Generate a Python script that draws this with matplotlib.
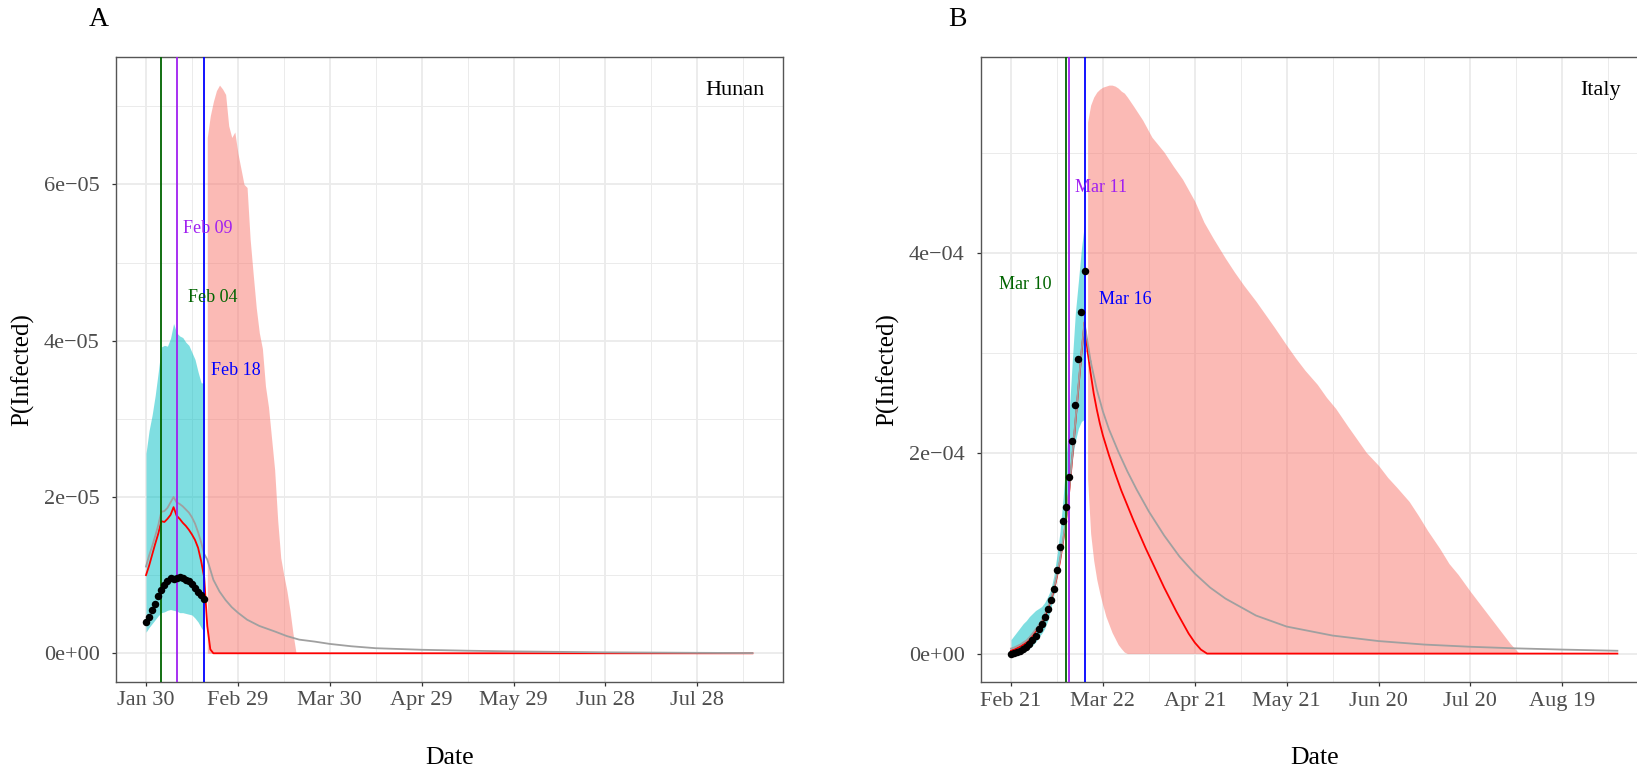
import numpy as np
import pandas as pd
import matplotlib
matplotlib.use('Agg')
import matplotlib.pyplot as plt
import matplotlib.dates as mdates
from matplotlib.ticker import FixedLocator, FixedFormatter

plt.rcParams['font.family'] = ['Liberation Serif', 'DejaVu Serif']

# ---------------- Panel A : Hunan (values x 1e-5, days after 2020-01-30) -------------
hunan_start = '2020-01-30'
hunan_end_day = 198
hunan_obs_days = list(range(20))
hunan_obs = [0.40, 0.47, 0.55, 0.635, 0.73, 0.81, 0.88, 0.93, 0.96, 0.95,
             0.96, 0.98, 0.96, 0.94, 0.92, 0.89, 0.84, 0.79, 0.74, 0.69]
hunan_band_days = list(range(20))
hunan_band_high = [2.56, 2.85, 3.05, 3.30, 3.60, 3.92, 3.94, 3.93, 4.03, 4.22,
                   4.10, 4.06, 4.04, 3.98, 3.94, 3.85, 3.76, 3.60, 3.46, 3.46]
hunan_band_low = [0.27, 0.33, 0.38, 0.43, 0.48, 0.52, 0.53, 0.55, 0.56, 0.55,
                  0.54, 0.52, 0.52, 0.51, 0.50, 0.49, 0.45, 0.40, 0.33, 0.27]
hunan_fore_days = list(range(20, 50))
hunan_fore_high = [6.60, 6.88, 7.06, 7.20, 7.27, 7.22, 7.15, 6.75, 6.60, 6.67,
                   6.40, 6.20, 6.00, 5.96, 5.30, 4.85, 4.42, 4.10, 3.90, 3.42,
                   3.15, 2.75, 2.35, 1.70, 1.22, 1.00, 0.80, 0.55, 0.25, 0.00]
hunan_red_days = list(range(23)) + [198]
hunan_red = [1.00, 1.12, 1.26, 1.40, 1.53, 1.69, 1.68, 1.72, 1.77, 1.87,
             1.76, 1.72, 1.67, 1.63, 1.58, 1.52, 1.45, 1.35, 1.18, 0.97,
             0.35, 0.05, 0.00, 0.00]
hunan_grey_days = list(range(20)) + [20, 22, 24, 26, 28, 30, 33, 37, 42, 46, 50,
                                     55, 60, 67, 75, 90, 105, 120, 150, 180, 198]
hunan_grey = [1.11, 1.25, 1.37, 1.50, 1.64, 1.81, 1.82, 1.86, 1.93, 2.00,
              1.93, 1.91, 1.88, 1.84, 1.80, 1.74, 1.66, 1.55, 1.42, 1.27,
              1.20, 0.94, 0.79, 0.68, 0.59, 0.52, 0.43, 0.35, 0.28, 0.22, 0.175,
              0.15, 0.12, 0.09, 0.065, 0.045, 0.033, 0.024, 0.012, 0.006, 0.003]
hunan_vlines = ['2020-02-04', '2020-02-09', '2020-02-18']
hunan_yticks = [0, 2, 4, 6]
hunan_yticklabels = ['0e+00', '2e\u221205', '4e\u221205', '6e\u221205']

# ---------------- Panel B : Italy (values x 1e-4, days after 2020-02-21) -------------
italy_start = '2020-02-21'
italy_end_day = 198
italy_obs_days = list(range(25))
italy_obs = [0.00, 0.005, 0.012, 0.025, 0.045, 0.07, 0.10, 0.14, 0.18, 0.25,
             0.30, 0.37, 0.45, 0.54, 0.65, 0.84, 1.06, 1.32, 1.46, 1.76,
             2.12, 2.48, 2.94, 3.41, 3.82]
italy_band_days = list(range(25))
italy_band_high = [0.14, 0.18, 0.22, 0.26, 0.30, 0.33, 0.37, 0.40, 0.43, 0.45,
                   0.47, 0.51, 0.57, 0.64, 0.78, 0.98, 1.22, 1.55, 1.95, 2.40,
                   2.92, 3.40, 3.72, 4.05, 4.30]
italy_band_low = [0.00, 0.00, 0.005, 0.01, 0.02, 0.03, 0.05, 0.08, 0.115, 0.16,
                  0.20, 0.25, 0.33, 0.45, 0.59, 0.77, 1.00, 1.25, 1.45, 1.75,
                  1.95, 2.12, 2.25, 2.32, 2.34]
italy_fore_days = [25, 26, 27, 28, 29, 30, 31, 32, 33, 34, 35, 36, 37, 38, 40, 43,
                   46, 50, 53, 56, 60, 63, 66, 70, 73, 76, 80, 83, 86, 90, 93, 96,
                   100, 103, 106, 110, 113, 116, 120, 123, 126, 130, 133, 136, 140,
                   143, 146, 150, 153, 156, 160, 163, 166]
italy_fore_high = [5.31, 5.48, 5.56, 5.61, 5.64, 5.66, 5.67, 5.68, 5.68, 5.67,
                   5.65, 5.62, 5.60, 5.56, 5.47, 5.33, 5.16, 5.01, 4.87, 4.74,
                   4.52, 4.31, 4.15, 3.95, 3.81, 3.68, 3.52, 3.39, 3.26, 3.08,
                   2.95, 2.83, 2.69, 2.56, 2.45, 2.27, 2.14, 2.01, 1.88, 1.76,
                   1.66, 1.52, 1.38, 1.23, 1.05, 0.90, 0.79, 0.62, 0.50, 0.38,
                   0.22, 0.10, 0.00]
italy_fore_low = [1.75, 1.20, 0.93, 0.74, 0.60, 0.48, 0.37, 0.29, 0.21, 0.15,
                  0.09, 0.05, 0.015, 0.00, 0.00, 0.00, 0.00, 0.00, 0.00, 0.00,
                  0.00, 0.00, 0.00, 0.00, 0.00, 0.00, 0.00, 0.00, 0.00, 0.00,
                  0.00, 0.00, 0.00, 0.00, 0.00, 0.00, 0.00, 0.00, 0.00, 0.00,
                  0.00, 0.00, 0.00, 0.00, 0.00, 0.00, 0.00, 0.00, 0.00, 0.00,
                  0.00, 0.00, 0.00]
italy_fit_days = list(range(25))
italy_fit = [0.03, 0.04, 0.055, 0.07, 0.09, 0.11, 0.14, 0.18, 0.22, 0.26,
             0.31, 0.37, 0.44, 0.53, 0.63, 0.77, 0.92, 1.12, 1.34, 1.62,
             1.95, 2.30, 2.65, 3.00, 3.30]
italy_red_days = [25, 26, 27, 28, 29, 30, 32, 34, 36, 38, 40, 42, 44, 46, 48, 50,
                  52, 54, 56, 58, 60, 62, 64, 198]
italy_red = [3.02, 2.80, 2.60, 2.44, 2.30, 2.18, 1.98, 1.80, 1.63, 1.48, 1.33,
             1.19, 1.05, 0.92, 0.79, 0.66, 0.54, 0.42, 0.31, 0.20, 0.11, 0.04,
             0.00, 0.00]
italy_grey_days = [26, 28, 30, 32, 35, 38, 41, 45, 50, 55, 60, 65, 70, 80, 90,
                   105, 120, 135, 150, 165, 180, 198]
italy_grey = [2.92, 2.64, 2.42, 2.24, 2.02, 1.82, 1.64, 1.42, 1.18, 0.97, 0.80,
              0.66, 0.55, 0.38, 0.27, 0.18, 0.125, 0.09, 0.068, 0.052, 0.04, 0.028]
italy_vlines = ['2020-03-10', '2020-03-11', '2020-03-16']
italy_yticks = [0, 2, 4]
italy_yticklabels = ['0e+00', '2e\u221204', '4e\u221204']

vline_colors = ['#006400', '#A020F0', '#0000FF']
CYAN = '#00BFC4'
PINK = '#F8766D'
RED = '#FF0000'
GREY = '#A0A0A0'
GRID = '#EBEBEB'


def to_num(start, days):
    hours = np.round(np.asarray(days, float) * 24).astype(int)
    return mdates.date2num(np.datetime64(start, 'h') + hours.astype('timedelta64[h]'))


W, H = 1637, 775
fig = plt.figure(figsize=(W / 100, H / 100), dpi=100)
fig.patch.set_facecolor('white')


def panel(ax, start, end_day, scale, obs_d, obs, bd, bh, bl, fd, fh, fl,
          red_d, red, grey_d, grey, vlines, yticks, yticklabels, ymax_data):
    X = lambda d: to_num(start, d)
    s = scale
    ax.fill_between(X(bd), np.array(bl) * s, np.array(bh) * s, color=CYAN,
                    alpha=0.5, lw=0, zorder=1)
    ax.fill_between(X(fd), np.array(fl) * s, np.array(fh) * s, color=PINK,
                    alpha=0.5, lw=0, zorder=1)
    ax.plot(X(red_d), np.array(red) * s, color=RED, lw=1.3, zorder=2)
    ax.plot(X(grey_d), np.array(grey) * s, color=GREY, lw=1.3, zorder=2.1)
    for dstr, c in zip(vlines, vline_colors):
        ax.axvline(mdates.date2num(np.datetime64(dstr)), color=c, lw=1.3, zorder=3)
    ax.plot(X(obs_d), np.array(obs) * s, 'o', color='black', ms=5.4,
            mec='black', mew=0, zorder=4)

    # axis limits with 5% expansion
    x0, x1 = X([0])[0], X([end_day])[0]
    dx = (x1 - x0) * 0.05
    ax.set_xlim(x0 - dx, x1 + dx)
    dy = ymax_data * s * 0.05
    ax.set_ylim(-dy, ymax_data * s + dy)

    major = [X([30 * k])[0] for k in range(7)]
    minor = [X([15 + 30 * k])[0] for k in range(7)]
    labels = [(pd.Timestamp(start) + pd.Timedelta(days=30 * k)).strftime('%b %d')
              for k in range(7)]
    ax.xaxis.set_major_locator(FixedLocator(major))
    ax.xaxis.set_major_formatter(FixedFormatter(labels))
    ax.xaxis.set_minor_locator(FixedLocator(minor))
    ax.yaxis.set_major_locator(FixedLocator([v * s for v in yticks]))
    ax.yaxis.set_major_formatter(FixedFormatter(yticklabels))
    ax.yaxis.set_minor_locator(FixedLocator([(v + 1) * s for v in yticks]))

    ax.set_axisbelow(True)
    ax.grid(which='major', color=GRID, lw=1.3, zorder=0)
    ax.grid(which='minor', color=GRID, lw=0.7, zorder=0)
    for sp in ax.spines.values():
        sp.set_color('#555555')
        sp.set_linewidth(1.0)
    ax.tick_params(which='major', length=3.0, width=0.9, color='#333333',
                   labelcolor='#4D4D4D', labelsize=16)
    ax.tick_params(axis='x', which='major', pad=4.0)
    ax.tick_params(axis='y', which='major', pad=8.5)
    ax.tick_params(which='minor', length=0)

    ax.set_xlabel('Date', fontsize=18.5, color='black')
    ax.set_ylabel('P(Infected)', fontsize=18, color='black')
    ax.xaxis.label.set_va('center')
    ax.yaxis.label.set_va('center')
    ax.xaxis.set_label_coords(0.5, -0.1216)
    ax.yaxis.set_label_coords(-0.1394, 0.5)
    return X


axA = fig.add_axes([115.7 / W, 1 - 681.7 / H, 667 / W, 625 / H])
XA = panel(axA, hunan_start, hunan_end_day, 1e-5, hunan_obs_days, hunan_obs,
           hunan_band_days, hunan_band_high, hunan_band_low,
           hunan_fore_days, hunan_fore_high, np.zeros(len(hunan_fore_days)),
           hunan_red_days, hunan_red, hunan_grey_days, hunan_grey,
           hunan_vlines, hunan_yticks, hunan_yticklabels, max(hunan_fore_high))

axB = fig.add_axes([980.7 / W, 1 - 682.0 / H, 667 / W, 625.3 / H])
XB = panel(axB, italy_start, italy_end_day, 1e-4, italy_obs_days, italy_obs,
           italy_band_days, italy_band_high, italy_band_low,
           italy_fore_days, italy_fore_high, italy_fore_low,
           italy_red_days, italy_red, italy_grey_days, italy_grey,
           italy_vlines, italy_yticks, italy_yticklabels, max(italy_fore_high))
# fitted curve before the forecast (red under grey)
axB.plot(XB(italy_fit_days), np.array(italy_fit) * 1e-4, color=RED, lw=1.3, zorder=2)
axB.plot(XB(italy_fit_days), np.array(italy_fit) * 1e-4 + 0.02e-4, color=GREY,
         lw=1.3, zorder=2.1)
axB.plot(XB([24, 25]), [italy_fit[-1] * 1e-4, italy_red[0] * 1e-4], color=RED,
         lw=1.3, zorder=2)
axB.plot(XB([24, 26]), [italy_fit[-1] * 1e-4, italy_grey[0] * 1e-4], color=GREY,
         lw=1.3, zorder=2.1)

# date annotations
tkw = dict(fontsize=13, ha='center', va='baseline', zorder=5)
axA.text(XA([20.15])[0], 5.375e-5, 'Feb 09', color=vline_colors[1], **tkw)
axA.text(XA([21.85])[0], 4.497e-5, 'Feb 04', color=vline_colors[0], **tkw)
axA.text(XA([29.15])[0], 3.558e-5, 'Feb 18', color=vline_colors[2], **tkw)
axB.text(XB([4.78])[0], 3.639e-4, 'Mar 10', color=vline_colors[0], **tkw)
axB.text(XB([29.4])[0], 4.611e-4, 'Mar 11', color=vline_colors[1], **tkw)
axB.text(XB([37.4])[0], 3.489e-4, 'Mar 16', color=vline_colors[2], **tkw)

axA.text(0.9735, 0.9387, 'Hunan', transform=axA.transAxes, fontsize=16,
         ha='right', va='baseline', color='black', zorder=5)
axB.text(0.960, 0.9388, 'Italy', transform=axB.transAxes, fontsize=16,
         ha='right', va='baseline', color='black', zorder=5)

fig.text(99 / W, 1 - 19.5 / H, 'A', fontsize=20, ha='center', va='center')
fig.text(957 / W, 1 - 19.5 / H, 'B', fontsize=20, ha='center', va='center')

fig.savefig('out.png', dpi=100, facecolor='white')
